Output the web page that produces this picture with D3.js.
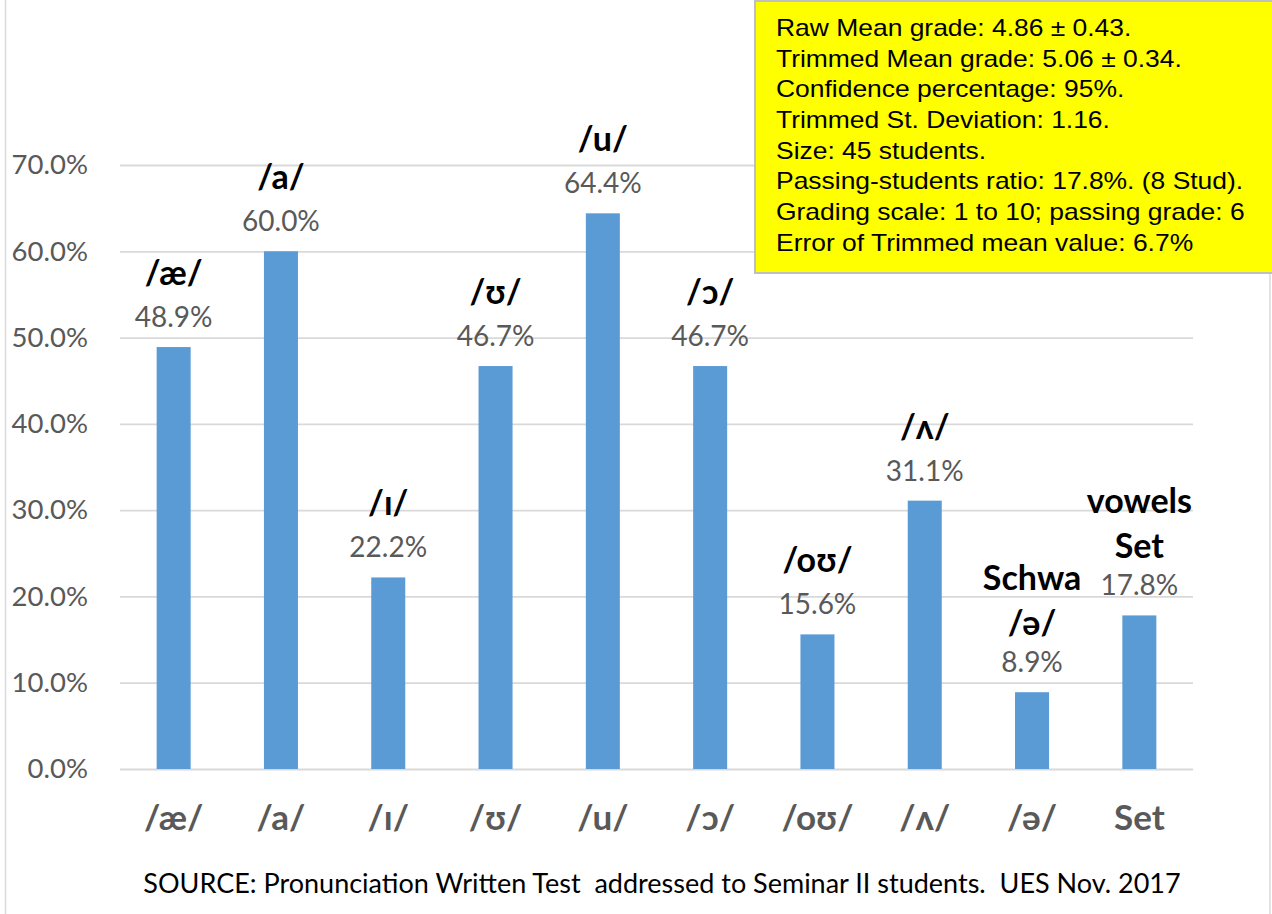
<!DOCTYPE html>
<html>
<head>
<meta charset="utf-8">
<script src="https://cdn.jsdelivr.net/npm/d3@7"></script>
<style>
  html, body { margin: 0; padding: 0; background: #fff; }
  svg { display: block; }
</style>
</head>
<body>
<svg id="chart" width="1272" height="914"></svg>
<script>
// Vowel categories shown on the x axis
const categories = ["/æ/", "/a/", "/ı/", "/ʊ/", "/u/", "/ɔ/", "/oʊ/", "/ʌ/", "/ə/", "Set"];
// Share of students answering correctly, per vowel
const values = [0.489, 0.600, 0.222, 0.467, 0.644, 0.467, 0.156, 0.311, 0.089, 0.178];
// Bold names printed above each bar (one entry per line)
const barNames = [["/æ/"], ["/a/"], ["/ı/"], ["/ʊ/"], ["/u/"], ["/ɔ/"], ["/oʊ/"], ["/ʌ/"], ["Schwa", "/ə/"], ["vowels", "Set"]];
// Y axis ticks
const yTicks = [0, 0.1, 0.2, 0.3, 0.4, 0.5, 0.6, 0.7];
// Summary statistics box
const statsLines = [
  "Raw Mean grade: 4.86 ± 0.43.",
  "Trimmed Mean grade: 5.06 ± 0.34.",
  "Confidence percentage: 95%.",
  "Trimmed St. Deviation: 1.16.",
  "Size: 45 students.",
  "Passing-students ratio: 17.8%. (8 Stud).",
  "Grading scale: 1 to 10; passing grade: 6",
  "Error of Trimmed mean value: 6.7%"
];
const sourceText = "SOURCE: Pronunciation Written Test  addressed to Seminar II students.  UES Nov. 2017";

const svg = d3.select("#chart");
const W = 1272, H = 914;
const plot = { left: 120, right: 1193, top: 165, bottom: 769 };

const x = d3.scaleBand()
  .domain(categories)
  .range([plot.left, plot.right])
  .paddingInner(0.683)
  .paddingOuter(0.683 / 2);

const y = d3.scaleLinear()
  .domain([0, 0.7])
  .range([plot.bottom, plot.top]);

const fmt = d3.format(".1%");
const FONT = "Lato, 'Open Sans', sans-serif";

// Outer frame (side edges)
svg.append("line").attr("x1", 5.5).attr("x2", 5.5).attr("y1", 0).attr("y2", H)
  .attr("stroke", "#d9d9d9").attr("stroke-width", 1.5);
svg.append("line").attr("x1", 1270).attr("x2", 1270).attr("y1", 0).attr("y2", H)
  .attr("stroke", "#d9d9d9").attr("stroke-width", 1.5);

// Horizontal gridlines and y tick labels
const yAxis = d3.axisLeft(y).tickValues(yTicks).tickFormat(fmt)
  .tickSize(-(plot.right - plot.left)).tickPadding(32);
const gy = svg.append("g").attr("transform", `translate(${plot.left},0)`).call(yAxis);
gy.select(".domain").remove();
gy.selectAll(".tick line").attr("stroke", "#d9d9d9").attr("stroke-width", 1.8);
gy.selectAll(".tick text")
  .attr("font-family", FONT).attr("font-size", 27.5).attr("fill", "#595959");

// Bars
svg.append("g").selectAll("rect")
  .data(values)
  .join("rect")
  .attr("x", (d, i) => x(categories[i]))
  .attr("width", x.bandwidth())
  .attr("y", d => y(d))
  .attr("height", d => y(0) - y(d))
  .attr("fill", "#5b9bd5");

// X axis category labels
const xAxis = d3.axisBottom(x).tickSize(0).tickPadding(35);
const gx = svg.append("g").attr("transform", `translate(0,${plot.bottom})`).call(xAxis);
gx.select(".domain").remove();
gx.selectAll(".tick text")
  .attr("font-family", FONT).attr("font-size", 35).attr("font-weight", "bold")
  .attr("fill", "#595959").attr("dy", "0.75em");

// Value labels and bold names above bars
const ann = svg.append("g");
values.forEach((v, i) => {
  const cx = x(categories[i]) + x.bandwidth() / 2;
  const valueBase = y(v) - 20;
  ann.append("text")
    .attr("x", cx).attr("y", valueBase)
    .attr("text-anchor", "middle")
    .attr("font-family", FONT).attr("font-size", 28).attr("fill", "#595959")
    .text(fmt(v));
  const names = barNames[i];
  const firstGap = names.length > 1 ? 37 : 42;
  names.forEach((nm, j) => {
    const fromBottom = names.length - 1 - j;
    ann.append("text")
      .attr("x", cx).attr("y", valueBase - firstGap - fromBottom * 45)
      .attr("text-anchor", "middle")
      .attr("font-family", FONT).attr("font-size", 34).attr("font-weight", "bold")
      .attr("fill", "#000")
      .text(nm);
  });
});

// Statistics box
svg.append("rect")
  .attr("x", 755).attr("y", 1).attr("width", 520).attr("height", 272)
  .attr("fill", "#ffff00").attr("stroke", "#bfbfbf").attr("stroke-width", 2);
const stats = svg.append("g").attr("transform", "translate(776,0) scale(1.15,1)");
stats.selectAll("text")
  .data(statsLines)
  .join("text")
  .attr("x", 0)
  .attr("y", (d, i) => 36 + i * 30.7)
  .attr("font-family", "'Liberation Sans', Arial, sans-serif")
  .attr("font-size", 23)
  .attr("fill", "#000")
  .text(d => d);

// Source note
svg.append("text")
  .attr("x", 662).attr("y", 893)
  .attr("text-anchor", "middle")
  .attr("font-family", FONT).attr("font-size", 27).attr("fill", "#000")
  .attr("xml:space", "preserve")
  .style("white-space", "pre")
  .text(sourceText);
</script>
</body>
</html>
